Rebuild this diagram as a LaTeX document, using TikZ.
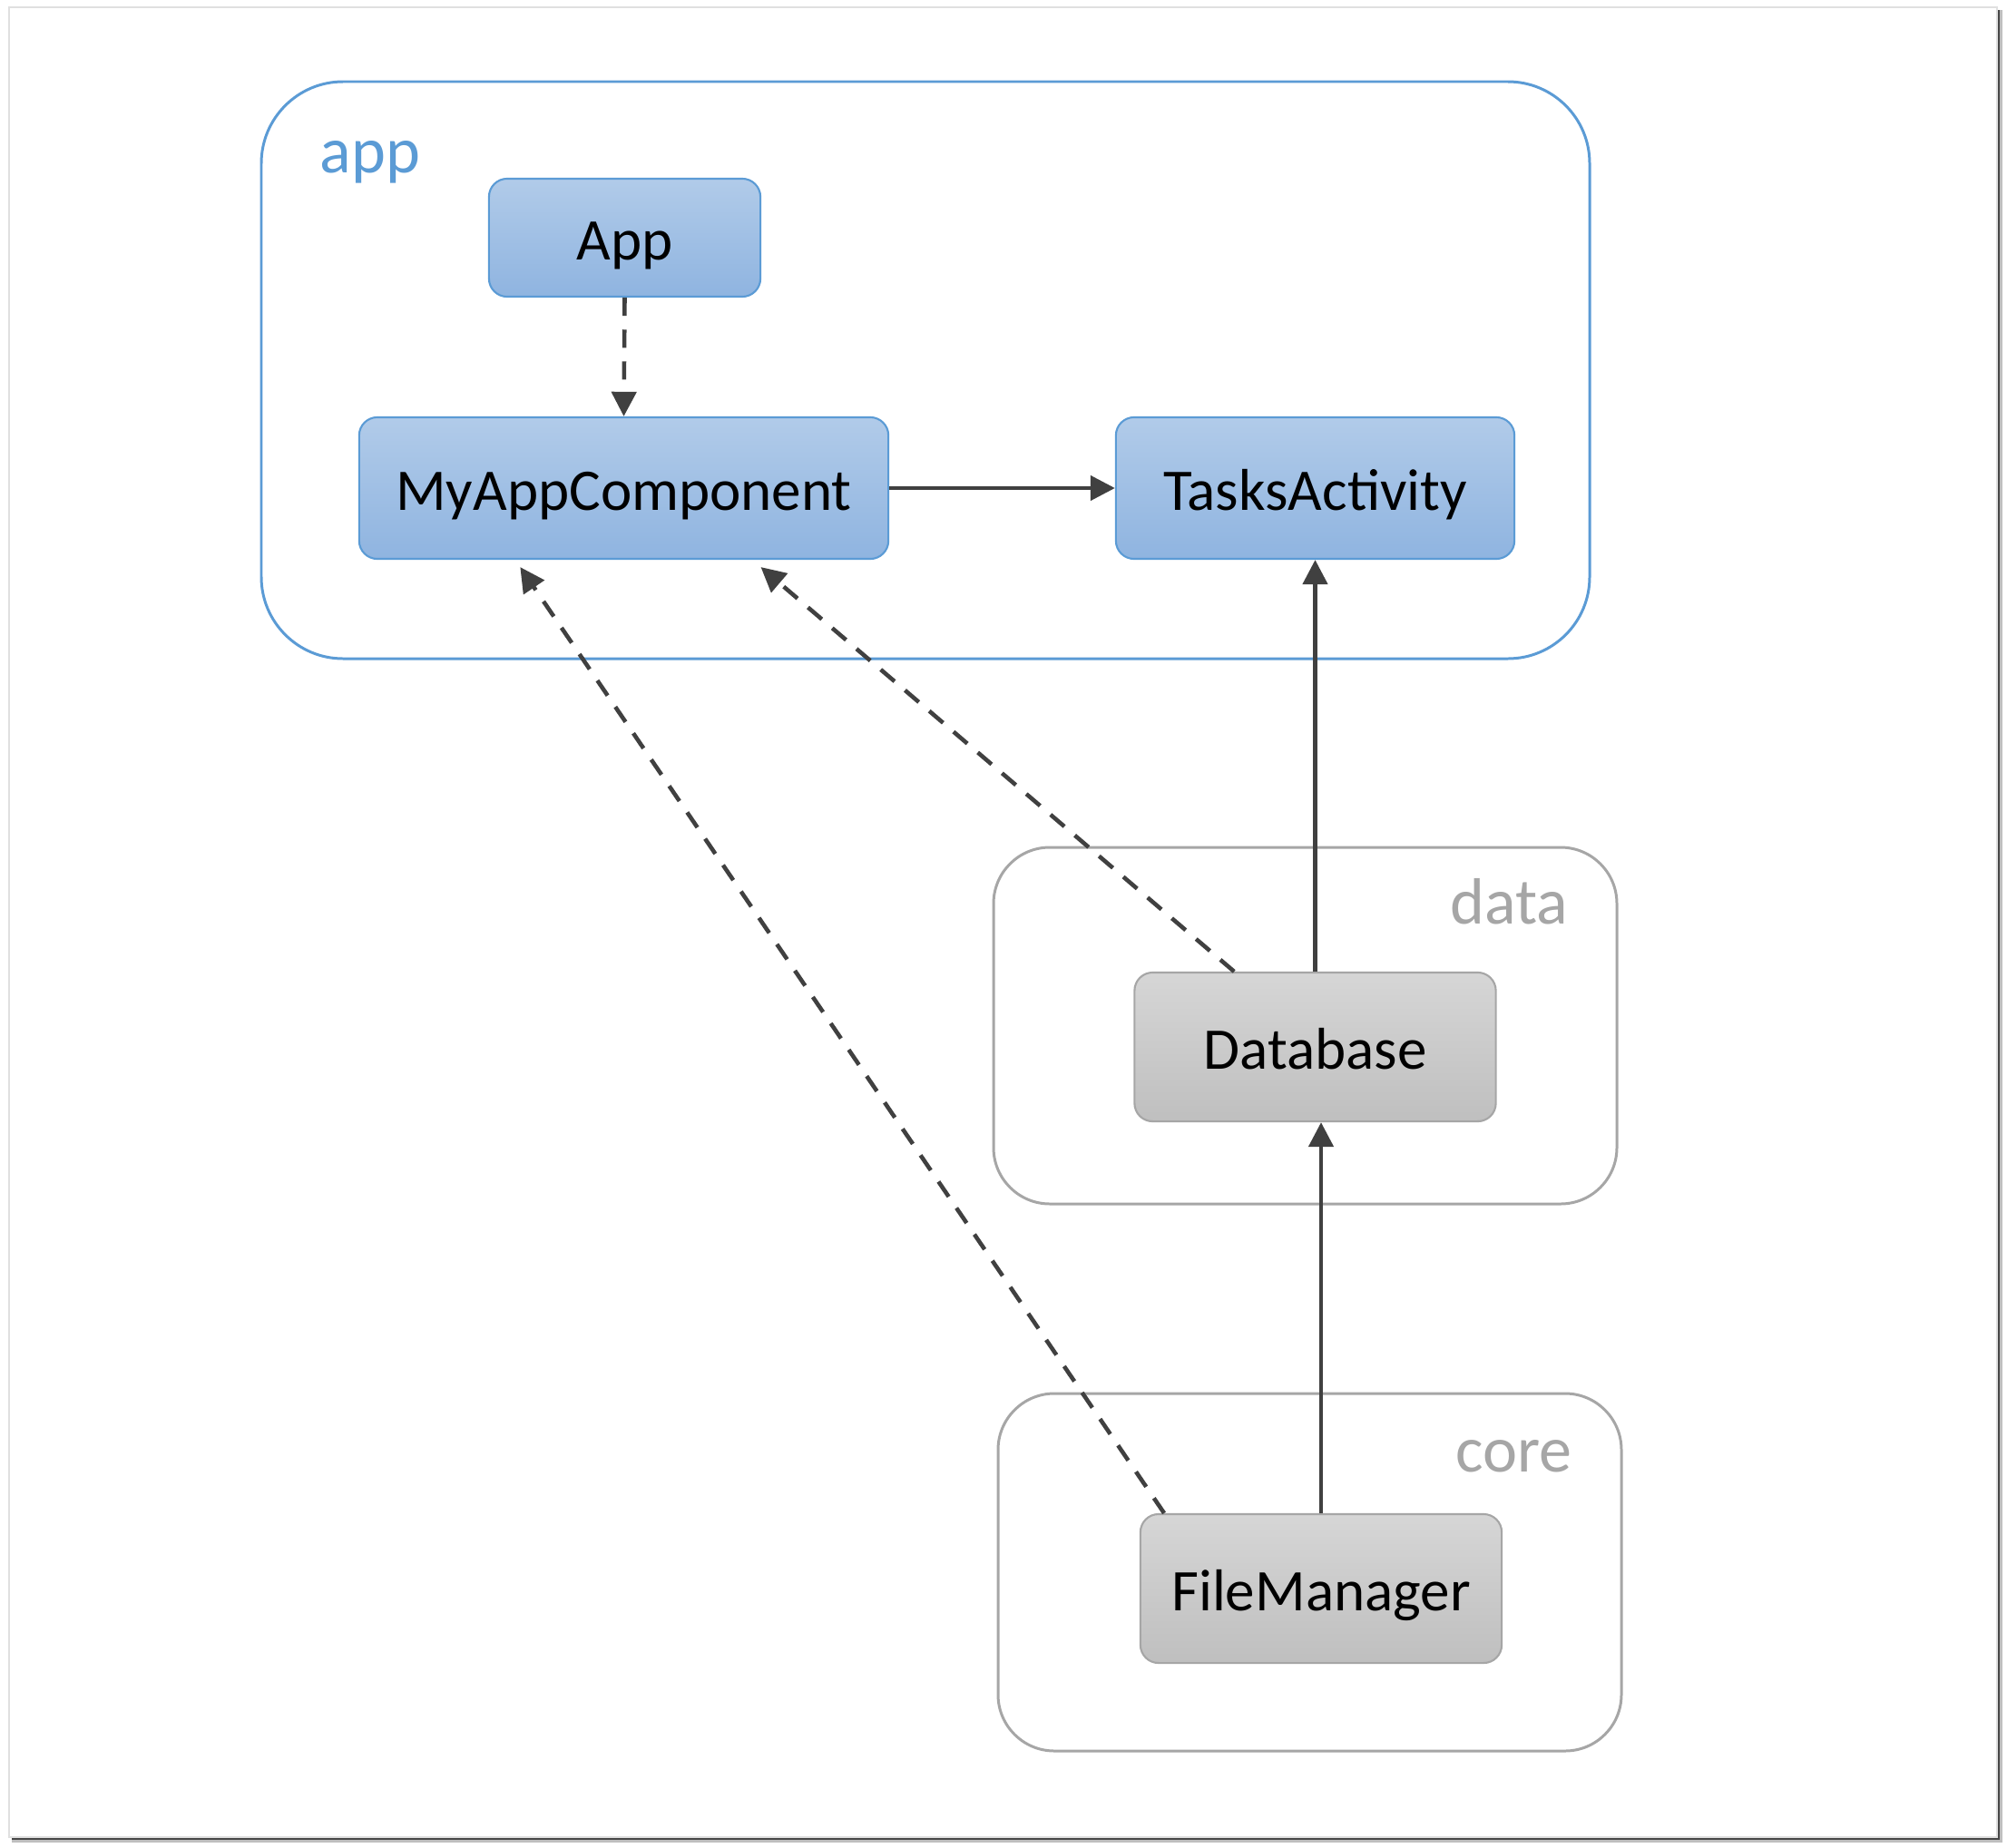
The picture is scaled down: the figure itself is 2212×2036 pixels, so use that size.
\documentclass[tikz,border=0pt]{standalone}
\usepackage{fontspec}
\setmainfont{Carlito}
\usetikzlibrary{arrows.meta,calc}
\definecolor{accblue}{HTML}{5B9BD5}
\definecolor{blueTop}{HTML}{B1CBE9}
\definecolor{blueBot}{HTML}{8FB4E0}
\definecolor{grayLine}{HTML}{A6A6A6}
\definecolor{grayTop}{HTML}{D6D6D6}
\definecolor{grayBot}{HTML}{BFBFBF}
\definecolor{arrowc}{HTML}{404040}
\tikzset{
  boxbase/.style={line width=0.6pt, rounded corners=0.2cm, font=\fontsize{18.5}{22}\selectfont, inner sep=0pt, text height=14pt, text depth=0pt},
  bluebox/.style={boxbase, draw=accblue, top color=blueTop, bottom color=blueBot},
  graybox/.style={boxbase, draw=grayLine, top color=grayTop, bottom color=grayBot},
  bluegroup/.style={draw=accblue, line width=0.85pt, rounded corners=0.9cm},
  graygroup/.style={draw=grayLine, line width=0.85pt, rounded corners=0.62cm},
  grouplabel/.style={font=\fontsize{20.5}{24}\selectfont, inner sep=0pt},
  dep/.style={draw=arrowc, line width=1.3pt, -{Triangle[length=7.7pt,width=7.7pt]}},
  depdash/.style={dep, dash pattern=on 5.7pt off 4.3pt}
}
\begin{document}
\begin{tikzpicture}[x=0.01cm,y=-0.01cm]
\useasboundingbox (0,0) rectangle (2212,2036);
% frame with shadow
\fill[black!25] (13,11) rectangle (2207,2031);
\fill[black!72] (13,11) rectangle (2204,2028);
\draw[fill=white, draw=black!12, line width=0.5pt] (10,8) rectangle (2201,2025);
% groups
\draw[bluegroup] (288,90) rectangle (1752,726);
\node[grouplabel, text=accblue, anchor=base west] (lapp) at (352,190) {app};
\draw[graygroup] (1095,934) rectangle (1782,1327);
\node[grouplabel, text=grayLine, anchor=base east] (ldata) at (1729,1018) {data};
\draw[graygroup] (1100,1536) rectangle (1787,1930);
\node[grouplabel, text=grayLine, anchor=base east] (lcore) at (1733,1622) {core};
% nodes
\node[bluebox, minimum width=2.99cm, minimum height=1.30cm] (app) at (688.5,262) {App};
\node[bluebox, minimum width=5.83cm, minimum height=1.56cm] (mac) at (687.5,538) {MyAppComponent};
\node[bluebox, minimum width=4.39cm, minimum height=1.56cm] (ta) at (1449.5,538) {TasksActivity};
\node[graybox, minimum width=3.98cm, minimum height=1.64cm] (db) at (1449.5,1154) {Database};
\node[graybox, minimum width=3.98cm, minimum height=1.64cm] (fm) at (1456,1751) {FileManager};
% connectors
\draw[depdash] (app.south) -- (mac.north);
\draw[dep] (mac.east) -- (ta.west);
\draw[dep] (db.north) -- (ta.south);
\draw[dep] (fm.north) -- (fm.north |- db.south);
\coordinate (dbs) at ($(db.north west)!0.277!(db.north east)$);
\coordinate (mact1) at ($(mac.south west)!0.758!(mac.south east)+(0,8)$);
\draw[depdash] (dbs) -- (mact1);
\coordinate (fms) at ($(fm.north west)!0.068!(fm.north east)$);
\coordinate (mact2) at ($(mac.south west)!0.305!(mac.south east)+(0,8)$);
\draw[depdash] (fms) -- (mact2);
\end{tikzpicture}
\end{document}
